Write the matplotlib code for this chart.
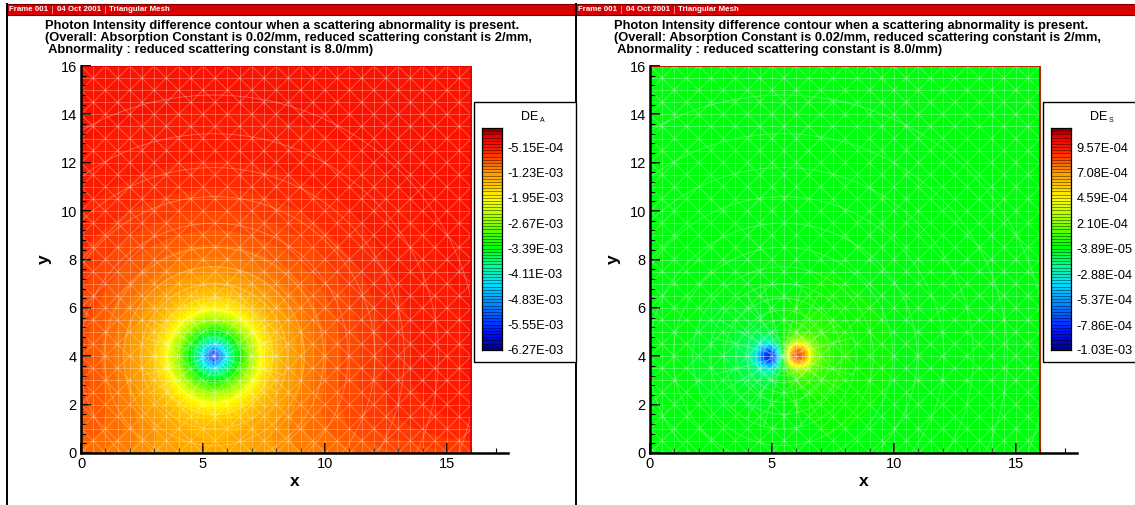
import numpy as np
import matplotlib

matplotlib.use("Agg")

import matplotlib.pyplot as plt
from matplotlib.colors import LinearSegmentedColormap, Normalize
from matplotlib.collections import LineCollection
from matplotlib.patches import Rectangle, Circle
from matplotlib.lines import Line2D

plt.rcParams["font.family"] = ["Liberation Sans", "DejaVu Sans"]

W, H = 1135, 505

HEADER = ["Frame 001", "04 Oct 2001", "Triangular Mesh"]
TITLE_LINES = [
    "Photon Intensity difference contour when a scattering abnormality is present.",
    "(Overall: Absorption Constant is 0.02/mm, reduced scattering constant is 2/mm,",
    " Abnormality : reduced scattering constant is 8.0/mm)",
]

# legend tick values of the two difference fields
A_TICKS = [-6.27e-3, -5.55e-3, -4.83e-3, -4.11e-3, -3.39e-3,
           -2.67e-3, -1.95e-3, -1.23e-3, -5.15e-4]
S_TICKS = [-1.03e-3, -7.86e-4, -5.37e-4, -2.88e-4, -3.89e-5,
           2.10e-4, 4.59e-4, 7.08e-4, 9.57e-4]

# abnormality centre, radial profile of DE_A around it
CENTER = (5.45, 4.0)
A_R = [0.0, 0.15, 0.3, 0.5, 0.8, 1.1, 1.5, 2.0, 2.5, 3.0, 4.0, 5.0, 6.5, 8.0, 10.0, 13.0, 17.0]
A_V = [-6.0e-3, -5.5e-3, -4.9e-3, -4.3e-3, -3.7e-3, -3.2e-3, -2.55e-3, -1.95e-3,
       -1.6e-3, -1.35e-3, -1.08e-3, -9.0e-4, -7.3e-4, -6.1e-4, -5.2e-4, -4.6e-4, -4.3e-4]
# extra drop of DE_A along the lower boundary
A_BOT_Y = [0.0, 0.5, 1.0, 2.0, 3.0]
A_BOT_V = [-3.0e-4, -2.0e-4, -1.2e-4, -4.0e-5, 0.0]

# DE_S: negative and positive lobes either side of the abnormality
S_BG = -2.0e-5
NEG_C = (4.9, 4.0)
POS_C = (6.05, 4.05)
LOBE_R = [0.0, 0.2, 0.35, 0.5, 0.7, 1.0, 1.5, 2.5, 4.0, 6.0]
NEG_V = [-1.0e-3, -9.0e-4, -7.0e-4, -5.0e-4, -3.2e-4, -1.9e-4, -1.1e-4, -5.0e-5, -1.5e-5, 0.0]
POS_V = [1.05e-3, 9.5e-4, 7.5e-4, 5.3e-4, 3.4e-4, 2.0e-4, 1.2e-4, 5.5e-5, 1.8e-5, 0.0]

MESH_RINGS = [0.25, 0.5, 0.8, 1.1, 1.5, 1.9, 2.4, 3.0, 3.7, 4.5, 5.5, 6.6, 7.8, 9.2, 10.8]

CMAP = LinearSegmentedColormap.from_list("tec_rainbow", [
    (0.00, "#000080"), (0.08, "#0010ff"), (0.20, "#0080ff"), (0.30, "#00e0ff"),
    (0.38, "#00ff90"), (0.47, "#00ff00"), (0.58, "#90ff00"), (0.68, "#ffff00"),
    (0.80, "#ff9900"), (0.90, "#ff2000"), (0.96, "#f00000"), (1.00, "#800000"),
])

xs = np.linspace(0, 16, 321)
X, Y = np.meshgrid(xs, xs)


def field_a():
    r = np.hypot(X - CENTER[0], Y - CENTER[1])
    return np.interp(r, A_R, A_V) + np.interp(Y, A_BOT_Y, A_BOT_V)


def field_s():
    rn = np.hypot(X - NEG_C[0], Y - NEG_C[1])
    rp = np.hypot(X - POS_C[0], Y - POS_C[1])
    return S_BG + np.interp(rn, LOBE_R, NEG_V) + np.interp(rp, LOBE_R, POS_V)


def levels_from(ticks):
    step = (ticks[-1] - ticks[0]) / 64
    return ticks[0] + step * np.arange(0, 71)


def mesh_lines(ax):
    segs = []
    for k in np.arange(0.5, 16, 0.5):
        segs.append([(k, 0), (k, 16)])
        segs.append([(0, k), (16, k)])
    for k in range(-15, 16):
        x0, x1 = max(0, -k), min(16, 16 - k)
        segs.append([(x0, x0 + k), (x1, x1 + k)])
    for k in range(1, 32):
        x0, x1 = max(0, k - 16), min(16, k)
        segs.append([(x0, k - x0), (x1, k - x1)])
    for a in np.linspace(0, 2 * np.pi, 24, endpoint=False):
        segs.append([CENTER, (CENTER[0] + 3.0 * np.cos(a), CENTER[1] + 3.0 * np.sin(a))])
    lc = LineCollection(segs, colors="white", linewidths=0.6, alpha=0.33, zorder=3)
    ax.add_collection(lc)
    clip = Rectangle((0, 0), 16, 16, transform=ax.transData)
    for rad in MESH_RINGS:
        c = Circle(CENTER, rad, fill=False, ec="white", lw=0.6, alpha=0.33, zorder=3)
        ax.add_patch(c)
        c.set_clip_path(clip)


def frame(x_off, Z, ticks, sub):
    # header strip and frame borders
    fig.patches.append(Rectangle((x_off + 7 / W, 1 - 15 / H), 568 / W, 11 / H,
                                 transform=fig.transFigure, fc="#d80000",
                                 ec="#7a0000", lw=0.8))
    for txt, xp in zip(HEADER, [9, 57, 109]):
        fig.text(x_off + xp / W, 1 - 9.8 / H, txt, color="white", fontsize=5.7,
                 fontweight="bold", va="center", ha="left")
    for xp in [52, 105]:
        fig.lines.append(Line2D([x_off + xp / W] * 2, [1 - 13 / H, 1 - 6 / H],
                                transform=fig.transFigure, color="#ff9a9a", lw=0.6))
    for i, line in enumerate(TITLE_LINES):
        fig.text(x_off + 45 / W, 1 - (25.5 + 12 * i) / H, line, fontsize=9.3,
                 fontweight="bold", va="center", ha="left")

    ax = fig.add_axes([x_off + 81 / W, 52 / H, 427 / W, 387 / H])
    levels = levels_from(ticks)
    norm = Normalize(levels[0], levels[-1])
    ax.contourf(X, Y, Z, levels=levels, cmap=CMAP, norm=norm, extend="both", zorder=1)
    mesh_lines(ax)
    ax.plot([0, 16, 16], [16, 16, 0], color="#e00000", lw=1.2, zorder=4)
    ax.set_xlim(0, 17.5)
    ax.set_ylim(0, 16)
    for s in ("top", "right"):
        ax.spines[s].set_visible(False)
    for s in ("left", "bottom"):
        ax.spines[s].set_linewidth(1.8)
        ax.spines[s].set_zorder(5)
    ax.set_xticks([0, 5, 10, 15])
    ax.set_xticks(np.arange(0, 18, 1), minor=True)
    ax.set_yticks(np.arange(0, 17, 2))
    ax.set_yticks(np.arange(0, 16.01, 0.4), minor=True)
    ax.tick_params(which="major", direction="in", length=7, width=1.3,
                   labelsize=10.5, pad=3)
    ax.tick_params(which="minor", direction="in", length=3.5, width=0.8)
    ax.set_xlabel("x", fontsize=12.5, fontweight="bold", labelpad=2)
    ax.set_ylabel("y", fontsize=12.5, fontweight="bold", labelpad=6)

    # contour legend box
    fig.patches.append(Rectangle((x_off + 474 / W, 1 - 362 / H), 102 / W, 260 / H,
                                 transform=fig.transFigure, fc="white",
                                 ec="black", lw=1.0, zorder=6))
    cax = fig.add_axes([x_off + 482 / W, 1 - 350 / H, 20 / W, 222 / H], zorder=7)
    mids = 0.5 * (levels[:-1] + levels[1:])
    cax.pcolormesh([0, 1], levels, mids[:, None], cmap=CMAP, norm=norm)
    cax.hlines(levels, 0, 1, colors="black", lw=0.5, alpha=0.6)
    cax.set_xlim(0, 1)
    cax.set_ylim(levels[0], levels[-1])
    cax.set_xticks([])
    cax.yaxis.tick_right()
    cax.set_yticks(ticks)
    cax.set_yticklabels([f"{t:.2E}" for t in ticks])
    cax.tick_params(axis="y", length=0, labelsize=9.2, pad=4)
    for s in cax.spines.values():
        s.set_linewidth(0.9)
    fig.text(x_off + 530 / W, 1 - 117 / H, "DE", fontsize=9, ha="center",
             va="center", zorder=8)
    fig.text(x_off + 539.5 / W, 1 - 120.5 / H, sub, fontsize=5, ha="left",
             va="center", zorder=8)


fig = plt.figure(figsize=(W / 100, H / 100), dpi=100)
frame(0.0, field_a(), A_TICKS, "A")
frame(569 / W, field_s(), S_TICKS, "S")
for xp in (7, 576):
    fig.lines.append(Line2D([xp / W] * 2, [0, 1 - 4 / H], transform=fig.transFigure,
                            color="black", lw=1.4))
fig.savefig("out.png", dpi=100)
